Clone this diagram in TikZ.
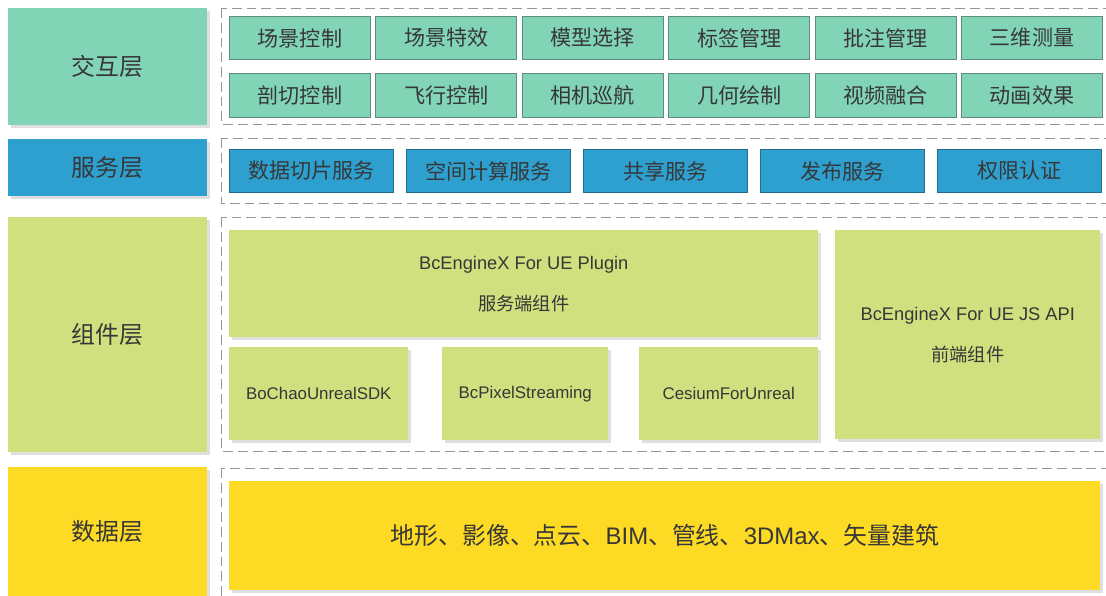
\documentclass[tikz,border=0pt]{standalone}
\usepackage{fontspec}
\setmainfont{Liberation Sans}
\newfontfamily\cjk{Noto Sans CJK SC}
\usetikzlibrary{shadows}
\definecolor{jhcolor}{RGB}{130,212,183}
\definecolor{jhline}{RGB}{96,140,124}
\definecolor{fwcolor}{RGB}{46,160,208}
\definecolor{fwline}{RGB}{34,108,142}
\definecolor{zjcolor}{RGB}{208,224,126}
\definecolor{sjcolor}{RGB}{253,218,36}
\definecolor{txtcolor}{RGB}{55,55,55}
\definecolor{framecolor}{RGB}{150,150,150}

\begin{document}
\begin{tikzpicture}[x=0.025cm,y=-0.025cm,
    cell/.style 2 args={anchor=north west,inner sep=0pt,minimum width=#1*0.025cm,minimum height=#2*0.025cm,text=txtcolor},
    shade box/.style={drop shadow={shadow xshift=2pt,shadow yshift=-2pt,opacity=0.25,fill=gray}},
    layer/.style={cell={199}{#1},shade box,font=\cjk\fontsize{17pt}{20pt}\selectfont},
    frame/.style={draw=framecolor,line width=0.7pt,dash pattern=on 7pt off 3.5pt},
    jhbox/.style={cell={141}{#1},fill=jhcolor,draw=jhline,line width=0.7pt,font=\cjk\fontsize{15pt}{18pt}\selectfont},
    fwbox/.style={cell={164}{43},fill=fwcolor,draw=fwline,line width=0.7pt,font=\cjk\fontsize{15pt}{18pt}\selectfont},
    zjbox/.style 2 args={cell={#1}{#2},fill=zjcolor,shade box,font=\fontsize{12pt}{14pt}\selectfont},
    twoline/.style={align=center,font=\fontsize{13pt}{29pt}\selectfont}]
  \useasboundingbox (0,0) rectangle (1106,596);
  \fill[white] (0,0) rectangle (1106,596);
  \clip (0,0) rectangle (1106,596);

  \draw[frame] (221,8) rectangle (1112,124);
  \draw[frame] (221,138) rectangle (1112,203);
  \draw[frame] (221,217) rectangle (1112,451);
  \draw[frame] (221,468) rectangle (1112,620);

  \node[layer=117,fill=jhcolor] (jhlayer) at (8,8) {交互层};
  \node[layer=57,fill=fwcolor] (fwlayer) at (8,139) {服务层};
  \node[layer=235,fill=zjcolor] (zjlayer) at (8,217) {组件层};
  \node[layer=129,fill=sjcolor] (sjlayer) at (8,467) {数据层};

  \foreach \t [count=\i] in {场景控制,场景特效,模型选择,标签管理,批注管理,三维测量}
    \node[jhbox=43] (jha\i) at ({229+146.4*(\i-1)},16) {\t};
  \foreach \t [count=\i] in {剖切控制,飞行控制,相机巡航,几何绘制,视频融合,动画效果}
    \node[jhbox=44] (jhb\i) at ({229+146.4*(\i-1)},73) {\t};

  \foreach \t [count=\i] in {数据切片服务,空间计算服务,共享服务,发布服务,权限认证}
    \node[fwbox] (fw\i) at ({229+177*(\i-1)},149) {\t};

  \node[zjbox={589}{107},twoline] (plugin) at (229,230) {BcEngineX For UE Plugin\\{\cjk 服务端组件}};
  \node[zjbox={179}{93}] (sdk) at (229,347) {BoChaoUnrealSDK};
  \node[zjbox={166}{93}] (pixel) at (442,347) {BcPixelStreaming};
  \node[zjbox={179}{93}] (cesium) at (639,347) {CesiumForUnreal};
  \node[zjbox={265}{209},twoline] (jsapi) at (835,230) {BcEngineX For UE JS API\\{\cjk 前端组件}};

  \node[cell={871}{109},fill=sjcolor,shade box,font=\fontsize{17pt}{20pt}\selectfont] (sources) at (229,481)
    {{\cjk 地形、影像、点云、}BIM{\cjk 、管线、}3DMax{\cjk 、矢量建筑}};
\end{tikzpicture}
\end{document}
